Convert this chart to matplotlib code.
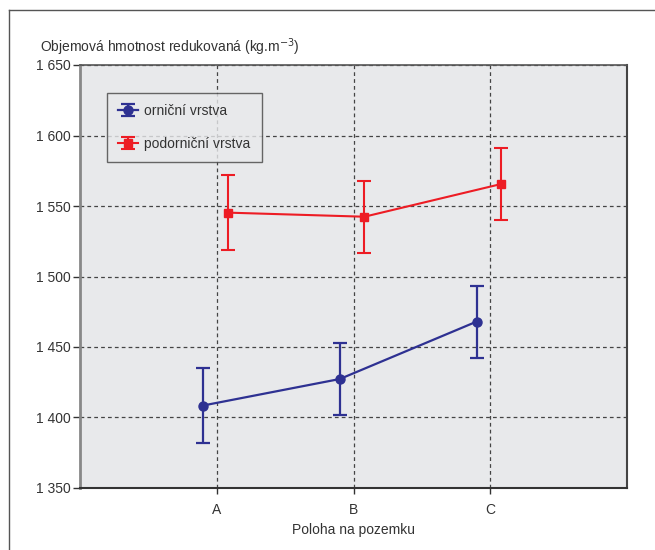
import matplotlib
matplotlib.use("Agg")
import matplotlib.pyplot as plt
from matplotlib.ticker import FuncFormatter
from matplotlib.legend_handler import HandlerErrorbar

categories = ["A", "B", "C"]
ornicni = [1408.5, 1427.3, 1468.0]
ornicni_err = [26.8, 25.7, 25.5]
podornicni = [1545.3, 1542.4, 1565.6]
podornicni_err = [26.5, 25.6, 25.5]
yticks = [1350, 1400, 1450, 1500, 1550, 1600, 1650]

plt.rcParams['font.family'] = ['Liberation Sans Narrow', 'Liberation Sans', 'DejaVu Sans']

BLUE = '#2E3192'
RED = '#ED1C24'
TXT = '#333333'
FS = 10

fig = plt.figure(figsize=(6.55, 5.5), dpi=100)
ax = fig.add_axes([80/655, 62/550, (627-80)/655, (488-65)/550])
ax.set_facecolor('#E8E9EB')

# figure frame (top and left)
fig.add_artist(plt.Line2D([9/655, 1.0], [1-10/550, 1-10/550], color='#555555', lw=1.0, transform=fig.transFigure))
fig.add_artist(plt.Line2D([9/655, 9/655], [0, 1-10/550], color='#555555', lw=1.0, transform=fig.transFigure))

x = list(range(len(categories)))
xb = [i - 0.10 for i in x]
xr = [i + 0.08 for i in x]

ax.errorbar(xb, ornicni, yerr=ornicni_err, color=BLUE, marker='o', markersize=6.5,
            lw=1.6, elinewidth=1.6, capsize=5, capthick=1.6, label='orniční vrstva', zorder=5)
ax.errorbar(xr, podornicni, yerr=podornicni_err, color=RED, marker='s', markersize=6,
            lw=1.5, elinewidth=1.5, capsize=5, capthick=1.5, label='podorniční vrstva', zorder=5)

ax.set_xlim(-1, 3)
ax.set_ylim(1350, 1650)
ax.set_xticks(x)
ax.set_xticklabels(categories)
ax.set_yticks(yticks)
ax.yaxis.set_major_formatter(FuncFormatter(lambda v, p: f"{int(v):,}".replace(",", " ")))

ax.grid(True, color='#444444', linestyle=(0, (3, 2.5)), lw=0.9)
ax.set_axisbelow(True)

ax.tick_params(axis='y', direction='out', length=5, width=1, color='#333333', labelsize=FS, labelcolor=TXT, pad=2)
ax.tick_params(axis='x', direction='out', length=4, width=1, color='#333333', labelsize=FS, labelcolor=TXT, pad=7)

ax.spines['left'].set_color('#888888')
ax.spines['left'].set_linewidth(2)
ax.spines['bottom'].set_color('#333333')
ax.spines['bottom'].set_linewidth(1.5)
ax.spines['right'].set_color('#444444')
ax.spines['right'].set_linewidth(1.5)
ax.spines['top'].set_color('#555555')
ax.spines['top'].set_linewidth(1.2)
ax.spines['top'].set_linestyle((0, (3, 1)))

ax.set_xlabel('Poloha na pozemku', fontsize=FS, color=TXT, labelpad=4)
fig.text(40/655, 1-47/550, 'Objemová hmotnost redukovaná (kg.m$^{-3}$)', fontsize=FS,
         color=TXT, ha='left', va='center')

leg = ax.legend(loc='upper left', bbox_to_anchor=((107-80)/547, 1-(93-65)/423),
                frameon=True, fancybox=False, fontsize=FS, borderpad=0.8,
                handlelength=1.4, handletextpad=0.5, labelspacing=1.35, borderaxespad=0,
                handler_map={type(ax.containers[0]): HandlerErrorbar(yerr_size=0.45)})
leg.get_frame().set_facecolor('#E8E9EB')
leg.get_frame().set_edgecolor('#444444')
leg.get_frame().set_linewidth(1.0)
for t in leg.get_texts():
    t.set_color(TXT)

fig.savefig('out.png', dpi=100)
